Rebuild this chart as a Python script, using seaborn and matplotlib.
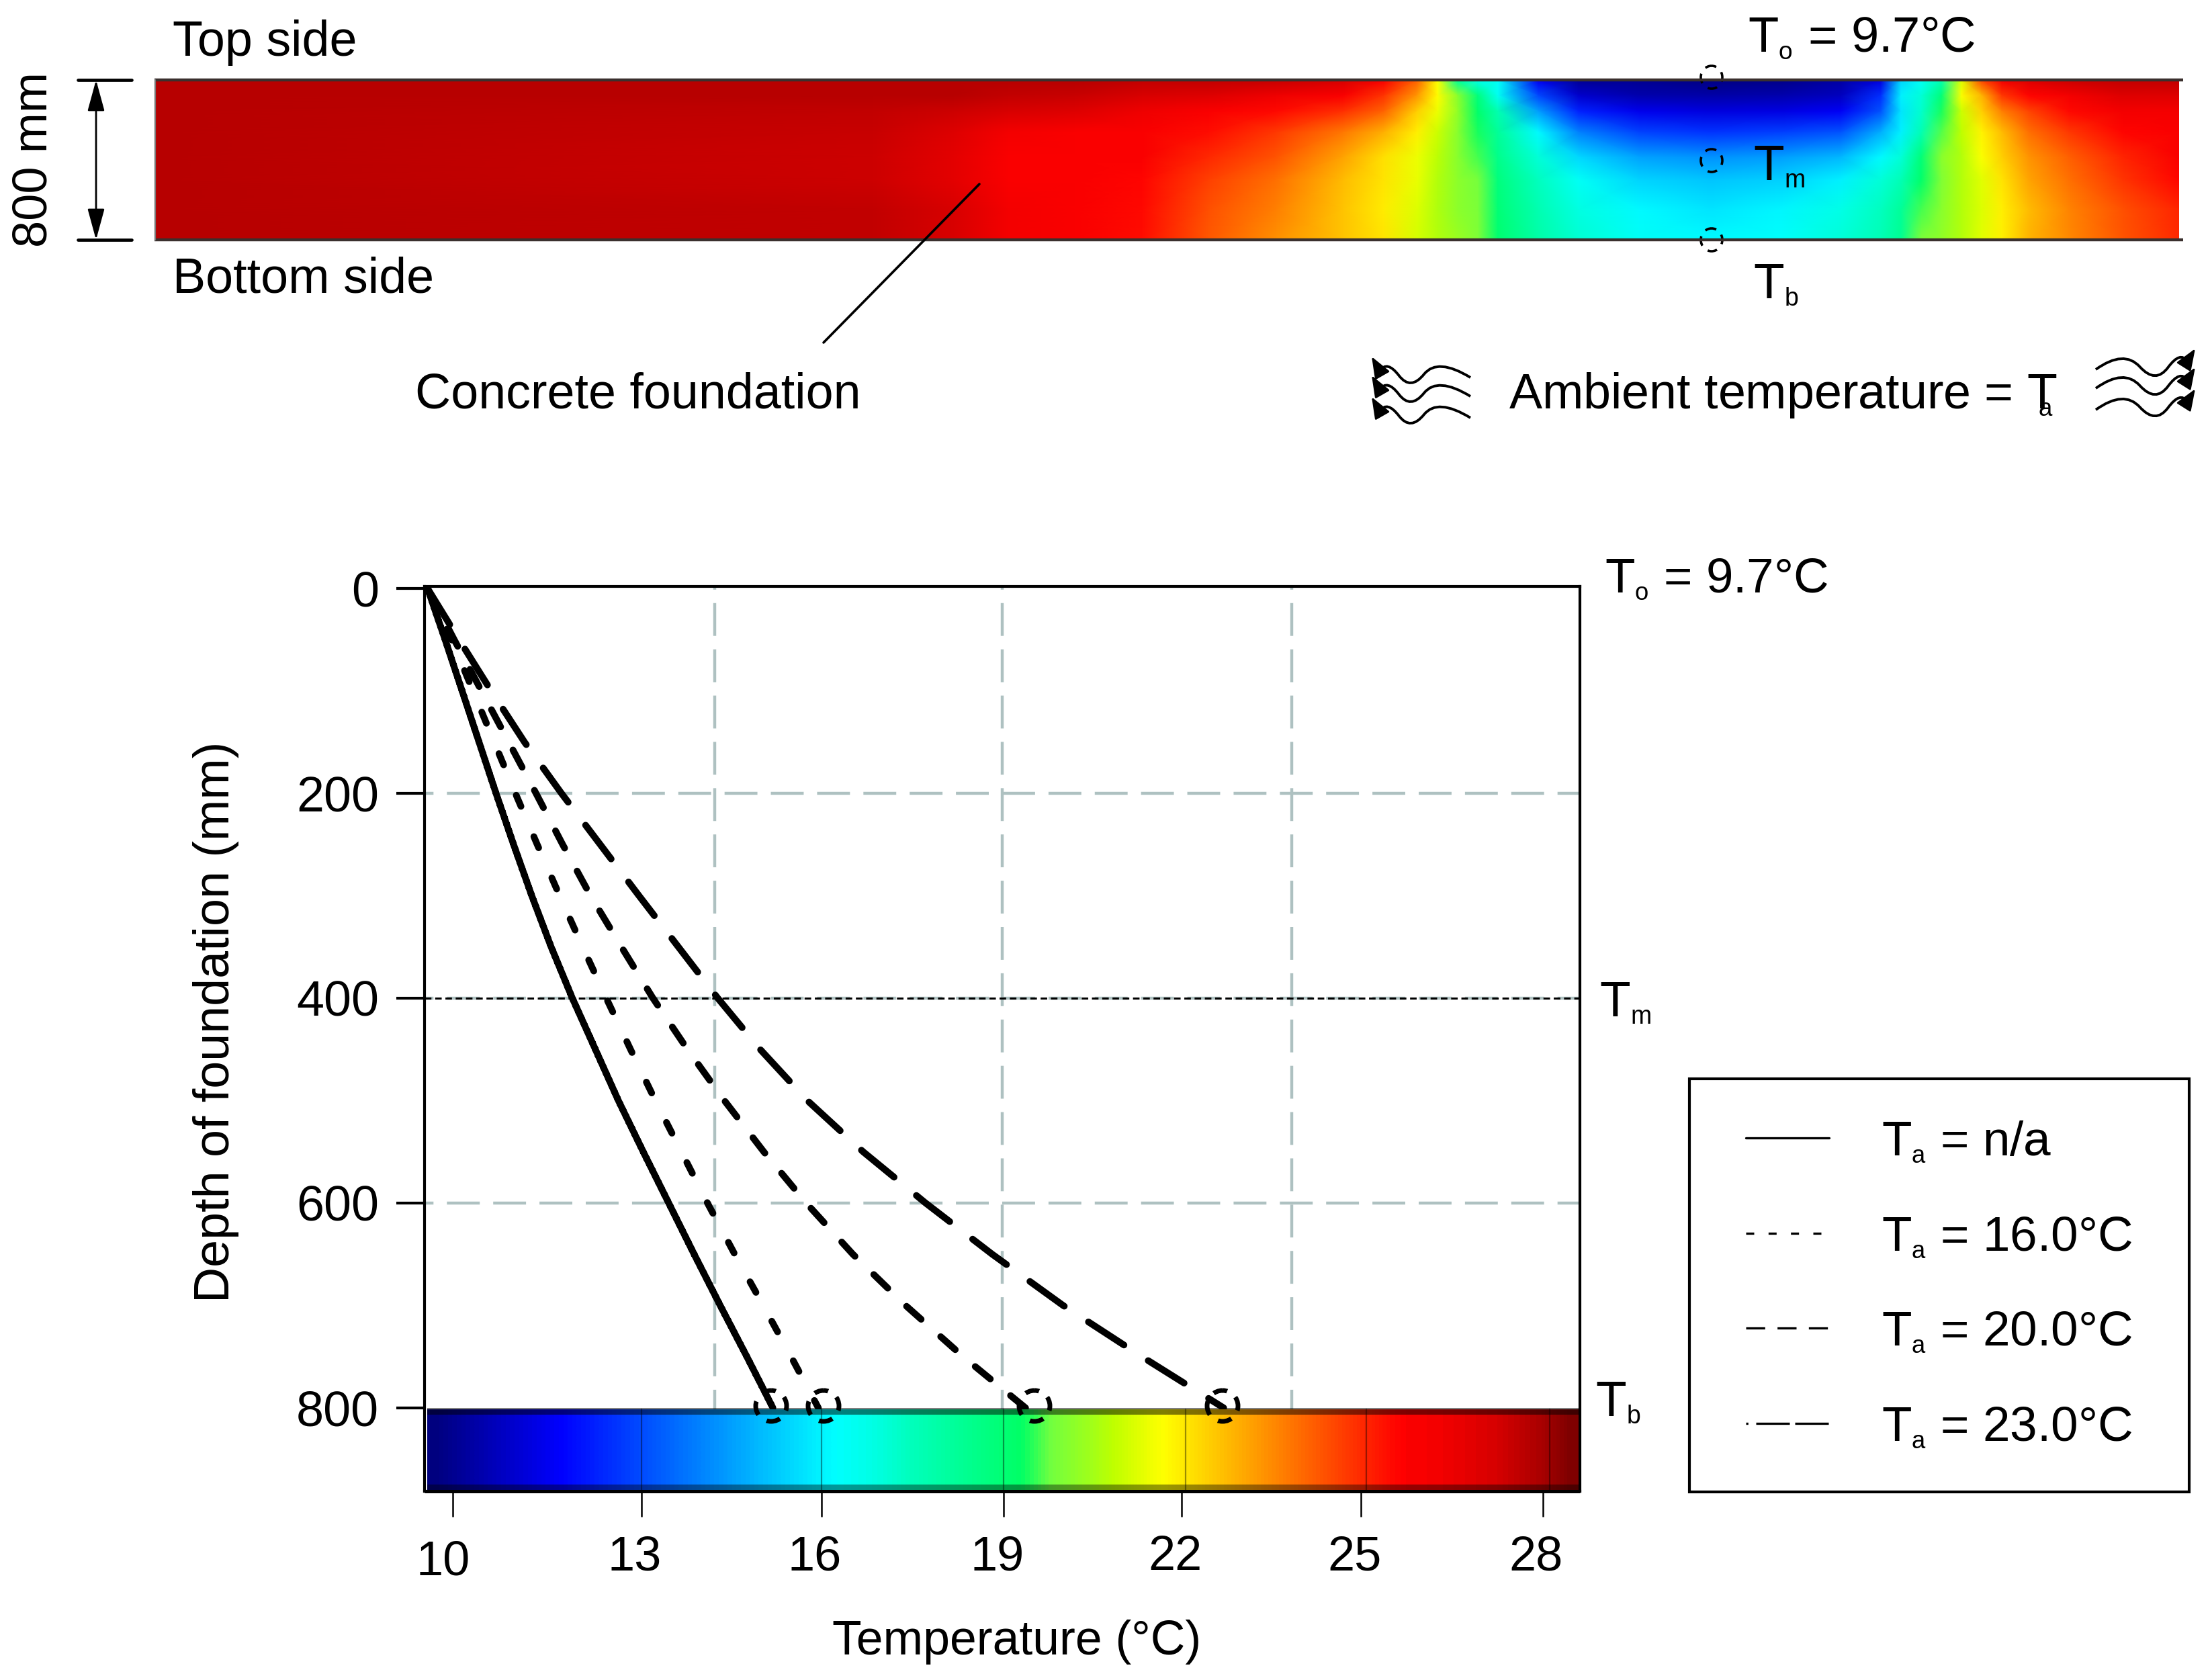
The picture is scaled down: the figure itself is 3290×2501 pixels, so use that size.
import numpy as np
import pandas as pd
import matplotlib
matplotlib.use('Agg')
import matplotlib.pyplot as plt
import matplotlib._mathtext as mathtext_internals
import seaborn as sns
from matplotlib.colors import LinearSegmentedColormap
from matplotlib.lines import Line2D
from matplotlib.patches import Ellipse, PathPatch, Rectangle
from matplotlib.path import Path
from matplotlib.transforms import ScaledTranslation

sns.set_theme(style='white')
plt.rcParams['font.family'] = ['Liberation Sans', 'DejaVu Sans']
plt.rcParams['mathtext.fontset'] = 'custom'
plt.rcParams['mathtext.rm'] = 'Liberation Sans'
plt.rcParams['mathtext.default'] = 'regular'
mathtext_internals.SHRINK_FACTOR = 0.5

W, H = 3290, 2501

# profiles
depth_levels = [0, 50, 100, 150, 200, 250, 300, 350, 400, 450, 500, 550, 600, 650, 700, 750, 800]
temp_none = [9.58, 9.87, 10.15, 10.43, 10.71, 11.0, 11.3, 11.62, 11.97, 12.35, 12.73, 13.14, 13.56, 13.98, 14.41,
             14.85, 15.28]
temp_16 = [9.58, 9.98, 10.33, 10.68, 11.03, 11.39, 11.76, 12.14, 12.53, 12.93, 13.34, 13.77, 14.2, 14.65, 15.12,
           15.58, 16.03]
temp_20 = [9.58, 10.02, 10.47, 10.92, 11.37, 11.81, 12.27, 12.78, 13.3, 13.87, 14.48, 15.13, 15.83, 16.6, 17.47,
           18.42, 19.45]
temp_23 = [9.58, 10.1, 10.63, 11.18, 11.79, 12.43, 13.07, 13.72, 14.37, 15.07, 15.85, 16.77, 17.8, 18.9, 20.07,
           21.37, 22.72]

# the ticks of the source are not quite evenly spaced
x_tick_pos = [10, 13.11, 16.08, 19.09, 22.03, 24.99, 27.99]
x_tick_labels = ['10', '13', '16', '19', '22', '25', '28']
y_ticks = [0, 200, 400, 600, 800]
grid_temps = [14.32, 19.07, 23.84]
grid_depths = [200, 400, 600]

# temperature field of the foundation section, one list per depth
band_x = [232, 1300, 1420, 1500, 1600, 1700, 1800, 1900, 2000, 2060, 2110, 2140, 2170, 2200, 2230, 2290, 2350, 2440,
          2546, 2650, 2740, 2800, 2830, 2860, 2890, 2920, 2950, 2980, 3020, 3080, 3160, 3244]
band_depth = [0, 75, 155, 260, 385, 500, 650, 800]
band_d0 = [27.8, 27.8, 27.8, 27.8, 27.8, 27.7, 27.7, 27.6, 27.4, 26.9, 25.0, 22.0, 18.0, 16.6, 16.3, 11.5, 10.0, 9.9,
           9.7, 9.8, 10.2, 11.2, 15.5, 16.4, 17.5, 21.5, 25.5, 27.0, 27.3, 27.5, 27.7, 27.7]
band_d75 = [27.8, 27.8, 27.8, 27.7, 27.6, 27.4, 27.3, 27.1, 26.9, 25.9, 24.0, 22.2, 20.0, 18.6, 16.5, 13.0, 10.9, 10.4,
            10.3, 10.4, 10.7, 12.5, 16.0, 16.8, 18.7, 22.0, 23.5, 25.8, 26.8, 27.0, 27.3, 27.3]
band_d155 = [27.8, 27.7, 27.5, 27.4, 27.3, 27.1, 26.9, 26.7, 26.0, 25.0, 23.0, 21.8, 20.2, 19.0, 17.5, 14.5, 12.3, 11.4,
             11.2, 11.3, 11.6, 13.2, 15.8, 17.0, 19.2, 21.2, 23.0, 24.5, 25.6, 26.7, 27.0, 27.0]
band_d260 = [27.8, 27.6, 27.3, 27.0, 26.9, 26.9, 26.6, 25.8, 24.6, 23.6, 22.4, 21.2, 20.0, 19.2, 18.0, 16.2, 14.0, 12.9,
             12.6, 12.8, 13.2, 14.8, 16.0, 17.4, 19.5, 21.0, 22.3, 23.4, 24.8, 25.8, 26.8, 26.9]
band_d385 = [27.8, 27.5, 27.2, 26.9, 26.9, 26.9, 26.1, 25.3, 23.8, 22.7, 21.8, 20.9, 20.0, 19.4, 18.3, 16.8, 15.6, 14.6,
             14.3, 14.5, 15.0, 16.2, 16.8, 18.7, 20.0, 20.8, 22.0, 23.0, 24.1, 25.1, 26.2, 26.9]
band_d500 = [27.8, 27.5, 27.2, 26.9, 26.9, 26.8, 25.7, 24.8, 23.4, 22.6, 21.7, 20.8, 20.1, 19.7, 18.6, 17.2, 16.4, 15.5,
             15.2, 15.4, 16.0, 16.8, 17.4, 19.0, 19.9, 20.8, 21.6, 22.6, 23.8, 24.8, 25.9, 26.8]
band_d650 = [27.8, 27.7, 27.4, 27.0, 26.9, 26.7, 25.4, 24.5, 23.2, 22.5, 21.5, 20.7, 20.1, 19.8, 18.8, 17.5, 16.7, 16.2,
             15.8, 16.1, 16.6, 17.2, 18.0, 19.4, 20.0, 20.8, 21.5, 22.4, 23.4, 24.4, 25.4, 26.2]
band_d800 = [27.8, 27.7, 27.4, 27.0, 26.9, 26.6, 25.2, 24.2, 23.2, 22.6, 21.4, 20.8, 20.3, 19.9, 18.9, 17.7, 16.9, 16.4,
             16.2, 16.3, 16.8, 17.4, 18.2, 19.8, 20.2, 20.8, 21.6, 22.4, 23.5, 24.3, 25.3, 26.1]

# colour strip at the bottom of the chart
strip_levels = [9.6, 9.85, 10.1, 10.35, 10.6, 10.85, 11.1, 11.35, 11.6, 11.85, 12.1, 12.35, 12.6, 12.85, 13.1, 13.35,
                13.6, 13.85, 14.1, 14.35, 14.6, 14.85, 15.1, 15.35, 15.6, 15.85, 16.1, 16.3, 16.45, 16.6, 16.8, 17.05,
                17.3, 17.55, 17.8, 18.05, 18.3, 18.55, 18.8, 19.05, 19.3, 19.6, 19.9, 20.2, 20.5, 20.85, 21.2, 21.55,
                21.9, 22.2, 22.5, 22.8, 23.1, 23.4, 23.7, 24.0, 24.3, 24.6, 24.9, 25.2, 25.5, 25.8, 26.1, 26.4, 26.7,
                26.9, 26.95, 27.0, 27.1, 27.2, 27.3, 27.4, 27.6, 27.8, 28.0, 28.3, 28.6]

cmap = LinearSegmentedColormap.from_list('foundation', [
    (0.0, (0.0, 0.0, 0.5)), (0.11, (0.0, 0.0, 1.0)), (0.35, (0.0, 1.0, 1.0)), (0.40, (0.0, 1.0, 0.75)),
    (0.50, (0.0, 1.0, 0.4)), (0.53, (0.45, 1.0, 0.25)), (0.60, (0.75, 1.0, 0.0)), (0.66, (1.0, 1.0, 0.0)),
    (0.91, (1.0, 0.0, 0.0)), (1.0, (0.5, 0.0, 0.0))])
VMIN, VMAX = 9.6, 28.6


def box(left, top, right, bottom, **kw):
    return fig.add_axes([left / W, 1 - bottom / H, (right - left) / W, (bottom - top) / H], **kw)


fig = plt.figure(figsize=(W / 100, H / 100), dpi=100, facecolor='white')

# everything outside the plot is placed in picture pixels
over = fig.add_axes([0, 0, 1, 1], zorder=10)
over.set_xlim(0, W)
over.set_ylim(H, 0)
over.axis('off')
over.patch.set_alpha(0)

# foundation section
ax_band = box(232, 120, 3244, 356)
band_values = np.array([band_d0, band_d75, band_d155, band_d260, band_d385, band_d500, band_d650, band_d800])
ax_band.pcolormesh(band_x, band_depth, band_values, shading='gouraud', cmap=cmap, vmin=VMIN, vmax=VMAX)
ax_band.set_ylim(800, 0)
ax_band.axis('off')

# main chart
ax = box(632, 873, 2352, 2220)
profiles = pd.concat([
    pd.DataFrame({'depth': depth_levels, 'temp': temp_none, 'case': 'n/a'}),
    pd.DataFrame({'depth': depth_levels, 'temp': temp_16, 'case': '16.0'}),
    pd.DataFrame({'depth': depth_levels, 'temp': temp_20, 'case': '20.0'}),
    pd.DataFrame({'depth': depth_levels, 'temp': temp_23, 'case': '23.0'}),
])
sns.lineplot(data=profiles, x='temp', y='depth', style='case', color='black', linewidth=7.2, sort=False,
             estimator=None, legend=False, ax=ax,
             dashes={'n/a': (1, 0), '16.0': (1.8, 4.9), '20.0': (2.9, 3.9), '23.0': (6.3, 4.3)})
for line in ax.lines:
    line.set_dash_capstyle('round')
    line.set_solid_capstyle('round')
    line.set_zorder(3)

ax.set_xlim(9.53, 28.6)
ax.set_ylim(881.4, -2)
ax.set_xticks(x_tick_pos, x_tick_labels)
ax.set_yticks(y_ticks)
ax.set_xticks(grid_temps, minor=True)
ax.tick_params(axis='x', which='major', length=27, width=1.8, pad=20, labelsize=52, color='black', bottom=True,
               labelcolor='black')
ax.tick_params(axis='y', which='major', length=30, width=3, pad=19, labelsize=53, color='black', left=True,
               labelcolor='black')
ax.tick_params(axis='x', which='minor', length=0)
ax.grid(False)
grid_style = dict(color='#aec1c1', linewidth=3.2, linestyle=(8, (11, 4.5)), zorder=1)
ax.xaxis.grid(True, which='minor', **grid_style)
for d in grid_depths:
    ax.axhline(d, **grid_style)
ax.axhline(400, color='black', linewidth=2.2, linestyle=(0, (3.2, 1.8)), zorder=2)
for side in ax.spines.values():
    side.set_visible(True)
    side.set_color('black')
    side.set_linewidth(3)

# the labels sit a little left of their ticks, and the 10 lower than the rest
for i, lab in enumerate(ax.get_xticklabels()):
    dx, dy = (-0.15, -0.07) if i == 0 else (-0.10, 0)
    lab.set_transform(lab.get_transform() + ScaledTranslation(dx, dy, fig.dpi_scale_trans))

ax.set_xlabel('Temperature (°C)', fontsize=51.5, color='black', va='center')
ax.set_ylabel('Depth of foundation (mm)', fontsize=53, color='black', va='center')
ax.xaxis.set_label_coords(1514, 2445, transform=over.transData)
ax.yaxis.set_label_coords(322, 1521, transform=over.transData)

legend_handles = [
    Line2D([], [], color='black', linewidth=2.4),
    Line2D([], [], color='black', linewidth=2.4, linestyle=(0, (3.6, 6.4))),
    Line2D([], [], color='black', linewidth=2.4, linestyle=(0, (8.5, 5.5))),
    Line2D([], [], color='black', linewidth=2.4, linestyle=(0, (1, 3.5, 15, 2.4, 15, 100))),
]
legend_labels = ['T$_a$ = n/a', 'T$_a$ = 16.0°C\u00a0\u2009', 'T$_a$ = 20.0°C\u00a0\u2009', 'T$_a$ = 23.0°C\u00a0\u2009']
leg = ax.legend(legend_handles, legend_labels, loc='upper left', bbox_to_anchor=(2515 / W, 1 - 1606 / H),
                bbox_transform=fig.transFigure, fontsize=52.5, frameon=True, fancybox=False, framealpha=1,
                edgecolor='black', borderaxespad=0, borderpad=0.85, labelspacing=1.02, handlelength=2.0,
                handletextpad=1.07)
leg.get_frame().set_linewidth(3)
for t in leg.get_texts():
    t.set_color('black')
for l in leg.get_lines():
    xd, yd = np.asarray(l.get_xdata()), np.asarray(l.get_ydata())
    l.set_data([xd.min() + 16, xd.max()], [yd[0], yd[0]])

# colour strip, over the lower end of the chart
ax_strip = box(636, 2098, 2350, 2219, zorder=5)
ax_strip.imshow([strip_levels], cmap=cmap, vmin=VMIN, vmax=VMAX, aspect='auto', interpolation='bilinear',
                interpolation_stage='data')
ax_strip.axis('off')
over.add_patch(Rectangle((636, 2096), 1714, 10, color='black', alpha=0.5, lw=0))
over.add_patch(Rectangle((636, 2210), 1714, 10, color='black', alpha=0.4, lw=0))
over.plot([632, 2352], [2220, 2220], color='black', lw=3.6, solid_capstyle='butt')
for tick in [955, 1223, 1494, 1765, 2034, 2307]:
    over.plot([tick, tick], [2098, 2220], color='black', lw=1.6, alpha=0.4)

# dashed rings where the profiles reach the bottom
for cx in [1148, 1226, 1540, 1820]:
    over.add_patch(Ellipse((cx, 2093), 46, 46, fill=False, edgecolor='black', lw=5, linestyle=(2, (3, 2.2))))
for cy in [115, 239, 357]:
    over.add_patch(Ellipse((2548, cy), 32, 34, fill=False, edgecolor='black', lw=2.6, linestyle=(2, (4, 3))))

# section outline
for yy in [119, 357]:
    over.plot([230, 3250], [yy, yy], color='#3a302e', lw=3.2, solid_capstyle='butt')
over.plot([231, 231], [119, 357], color='#777777', lw=1.6)

# 800 mm dimension
over.plot([116, 196], [119, 119], color='black', lw=3.4)
over.plot([116, 196], [357, 357], color='black', lw=3.4)
over.annotate('', xy=(143, 119), xytext=(143, 357),
              arrowprops=dict(arrowstyle='<|-|>,head_length=1.1,head_width=0.3', color='black', lw=2,
                              mutation_scale=26, shrinkA=0, shrinkB=0))
over.plot([1458, 1226], [274, 510], color='black', lw=2.6)

# section labels
big = 53
over.text(51, 238, '800 mm', rotation=90, ha='center', va='center', fontsize=52, color='black')
over.text(257, 83, 'Top side', fontsize=big, color='black')
over.text(257, 436, 'Bottom side', fontsize=big, color='black')
over.text(618, 608, 'Concrete foundation', fontsize=big, color='black')
over.text(2602, 77, 'T$_o$ = 9.7°C', fontsize=53.5, color='black')
over.text(2610, 268, 'T$_m$', fontsize=54, color='black')
over.text(2610, 444, 'T$_b$', fontsize=54, color='black')
over.text(2246, 608, r'Ambient temperature = T$\hspace{-0.4}_a$', fontsize=53, color='black')
over.text(2389, 882, 'T$_o$ = 9.7°C', fontsize=52.5, color='black')
over.text(2381, 1513, 'T$_m$', fontsize=54, color='black')
over.text(2375, 2108, 'T$_b$', fontsize=54, color='black')

# ambient heat arrows
left_wave_x = [2189, 2140, 2100, 2065, 2054]
left_wave_y = [562, 532, 582, 536, 552]
right_wave_x = [3120, 3162, 3209, 3246, 3256]
right_wave_y = [550, 520, 572, 522, 538]
wave_shifts = [0, 28, 60]
wave_codes = [Path.MOVETO, Path.CURVE3, Path.CURVE3, Path.CURVE3, Path.CURVE3, Path.CURVE3, Path.CURVE3]


def wave(xs, ys, tip, shift):
    pts = list(zip(xs, np.array(ys) + shift))
    mid1 = ((pts[1][0] + pts[2][0]) / 2, (pts[1][1] + pts[2][1]) / 2)
    mid2 = ((pts[2][0] + pts[3][0]) / 2, (pts[2][1] + pts[3][1]) / 2)
    over.add_patch(PathPatch(Path([pts[0], pts[1], mid1, pts[2], mid2, pts[3], pts[4]], wave_codes), fill=False,
                             edgecolor='black', lw=2.8))
    over.annotate('', xy=(tip[0], tip[1] + shift), xytext=pts[4],
                  arrowprops=dict(arrowstyle='-|>,head_length=0.9,head_width=0.35', color='black', lw=2,
                                  mutation_scale=22, shrinkA=0, shrinkB=0))


for s in wave_shifts:
    wave(left_wave_x, left_wave_y, (2042, 531), s)
    wave(right_wave_x, right_wave_y, (3268, 519), s)

plt.savefig('out.png', dpi=100)
plt.close()
